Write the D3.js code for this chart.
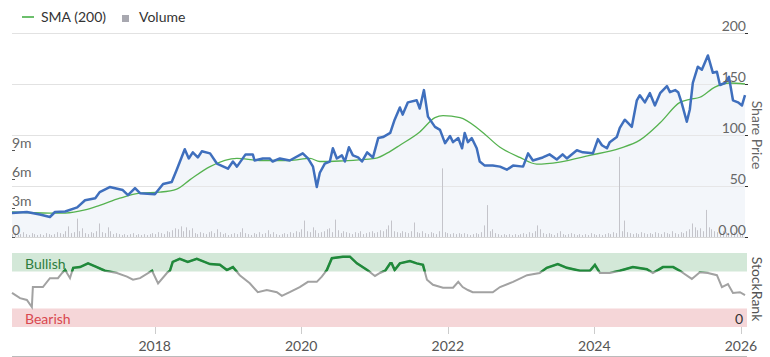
<!DOCTYPE html>
<html><head><meta charset="utf-8">
<script src="https://cdn.jsdelivr.net/npm/d3@7"></script>
<style>body{margin:0;background:#fff}svg{display:block;font-family:Lato,"Open Sans",sans-serif}</style>
</head><body><svg id="c" width="770" height="357"></svg>
<script>
const priceDates = ["2016-01-21","2016-04-04","2016-06-08","2016-07-28","2016-08-22","2016-10-12","2016-12-11","2017-01-19","2017-03-11","2017-04-02","2017-05-22","2017-07-26","2017-08-21","2017-09-25","2017-10-20","2018-01-02","2018-02-12","2018-03-27","2018-04-21","2018-05-31","2018-06-20","2018-07-10","2018-08-04","2018-08-24","2018-10-04","2018-11-07","2019-01-01","2019-01-26","2019-02-15","2019-03-30","2019-05-05","2019-05-14","2019-06-24","2019-07-28","2019-08-12","2019-09-17","2019-11-05","2020-01-09","2020-02-04","2020-02-29","2020-03-19","2020-04-03","2020-04-28","2020-05-23","2020-06-07","2020-06-27","2020-07-22","2020-08-06","2020-08-26","2020-09-15","2020-10-11","2020-10-30","2020-11-25","2020-12-24","2021-01-19","2021-02-12","2021-03-20","2021-04-11","2021-05-07","2021-05-21","2021-06-16","2021-07-30","2021-08-14","2021-09-04","2021-09-24","2021-10-29","2021-11-23","2021-12-18","2022-01-12","2022-01-27","2022-02-22","2022-03-13","2022-03-26","2022-04-11","2022-04-30","2022-05-25","2022-06-09","2022-07-04","2022-08-13","2022-09-18","2022-10-22","2022-11-22","2023-01-11","2023-02-05","2023-03-01","2023-04-19","2023-05-23","2023-06-28","2023-07-27","2023-08-17","2023-10-06","2023-11-05","2023-12-25","2024-01-19","2024-02-08","2024-03-04","2024-03-18","2024-04-22","2024-05-07","2024-06-01","2024-07-06","2024-07-31","2024-08-15","2024-09-09","2024-10-04","2024-10-29","2024-11-24","2024-12-28","2025-01-12","2025-02-07","2025-02-22","2025-03-12","2025-04-06","2025-04-21","2025-05-06","2025-05-31","2025-06-20","2025-07-20","2025-08-14","2025-09-03","2025-09-18","2025-10-13","2025-11-02","2025-11-22","2025-12-17","2026-01-06","2026-01-21"];
const priceValues = [23.5,24.5,22,19.6,24.5,25,29,36,38,44,49,46,41,48,43,42,52,54,66,86,77,83,78,84,82,72,67,74,69,81,81,75,77,77,74,77,75,82,77,69,49,63,72,74,87,77,80,74,88,80,78,74,83,78,97,98,102,115,127,120,132,134,126,144,118,108,105,92,99,93,97,87,102,93,97,87,74,70,70,69,66,70,69,82,75,78,81,76,81,77,85,83,82,96,90,87,93,98,107,115,108,134,139,132,141,129,141,148,142,144,142,131,113,125,151,167,164,178,161,162,149,151,157,134,132,129,139];

const smaDates = ["2016-01-21","2016-07-28","2016-10-12","2017-01-19","2017-04-02","2017-07-11","2017-10-20","2018-01-28","2018-04-21","2018-06-25","2018-10-04","2019-02-15","2019-06-08","2019-11-05","2020-02-14","2020-04-03","2020-07-12","2021-01-03","2021-03-20","2021-05-07","2021-08-14","2021-10-29","2021-12-08","2022-03-03","2022-06-09","2022-09-18","2022-12-26","2023-03-20","2023-07-12","2023-12-10","2024-05-07","2024-08-15","2024-11-24","2025-03-03","2025-04-21","2025-06-10","2025-08-24","2025-11-07","2026-01-21"];
const smaValues = [24.5,23.5,23.5,26.5,31,38,43,44,47,56,69,77,75,75,77,74,74.5,77,84,90,103,117,119,117,105,88,78,71.5,73.5,80,87,95,112,132,135,137,147,151,150];

const rankDates = ["2016-01-21","2016-03-01","2016-04-04","2016-04-29","2016-05-04","2016-06-23","2016-07-28","2016-09-06","2016-09-27","2016-10-12","2016-11-05","2016-11-21","2016-12-25","2017-02-03","2017-03-19","2017-04-28","2017-06-27","2017-08-16","2017-09-15","2017-10-20","2017-12-19","2018-01-18","2018-03-03","2018-03-18","2018-04-01","2018-05-06","2018-06-15","2018-07-30","2018-10-04","2018-11-22","2018-12-27","2019-01-26","2019-03-01","2019-04-20","2019-05-30","2019-07-14","2019-09-02","2019-09-27","2019-11-05","2019-12-25","2020-02-04","2020-03-19","2020-04-13","2020-05-08","2020-06-02","2020-07-27","2020-08-31","2020-10-05","2020-11-25","2021-01-03","2021-01-28","2021-02-23","2021-03-20","2021-03-27","2021-04-11","2021-05-07","2021-06-26","2021-07-30","2021-08-30","2021-09-19","2021-10-19","2021-12-08","2022-01-27","2022-02-22","2022-03-16","2022-04-11","2022-05-05","2022-08-13","2022-09-18","2022-11-22","2023-01-31","2023-04-04","2023-05-09","2023-07-03","2023-08-17","2023-10-21","2023-12-10","2024-01-04","2024-01-29","2024-03-18","2024-05-07","2024-07-11","2024-09-19","2024-10-19","2024-12-08","2025-01-28","2025-03-02","2025-05-01","2025-06-10","2025-07-20","2025-09-03","2025-09-28","2025-10-28","2025-11-22","2025-12-27","2026-01-21"];
const rankValues = [46,39,36.5,27,54,54,66,66,73,77,66,80,81,86,81,76,73,68,64,66,76,59,73,76,88,92,88,92,85,84,77,81,70,59,47,50,47,42,47,54,61,61,68,77,93,95,95,86,77,69,73,76,86,86,77,86,89,86,84,64,57,53,53,61,54,50,47,47,54,61,70,73,80,85,80,76,76,84,73,73,76,81,78,73,81,81,76,65,74,73,70,54,58,46,47,43];

const volumeStart = "2016-01-21";
const volumeStepDays = 14;
const volumeValues = [
0.3,0.4,0.2,0.3,0.5,0.3,0.2,0.4,0.3,0.2,
0.3,0.2,0.4,0.3,0.2,0.3,0.5,0.4,0.3,0.6,
1.1,0.4,0.5,1.9,0.6,0.9,0.4,0.3,0.5,0.4,
0.6,1.4,0.5,0.4,1.0,0.6,0.3,0.4,0.3,0.2,
0.3,0.2,0.3,0.4,0.2,0.3,0.2,0.3,0.2,0.3,
0.4,0.3,0.5,0.4,0.3,0.6,0.5,0.7,0.9,0.8,
1.1,0.6,1.0,0.7,0.9,0.4,0.3,0.5,0.4,0.3,
0.5,0.6,0.4,0.8,0.5,0.3,0.4,0.2,0.3,0.4,
0.3,0.5,0.9,0.4,0.3,0.2,0.4,0.3,0.5,0.3,
0.4,0.7,0.3,0.5,0.3,0.2,0.3,0.4,0.3,0.5,
0.4,0.6,0.5,0.8,1.7,0.6,0.5,1.0,0.7,0.4,
0.5,0.6,0.8,0.9,0.5,1.8,0.7,0.4,0.6,0.5,
0.4,0.3,0.5,0.4,0.6,0.3,0.4,0.5,0.6,0.4,
0.5,0.7,0.6,0.8,1.2,1.7,0.6,0.5,0.4,0.6,
0.5,0.4,0.6,1.5,0.5,0.4,0.6,0.4,0.3,0.5,
0.4,0.3,0.6,7.1,0.5,0.4,0.3,0.4,0.3,0.4,
0.3,0.4,0.3,0.2,0.3,0.4,0.3,0.5,1.2,3.3,
0.6,0.8,0.4,0.3,0.2,0.3,0.2,0.3,0.2,0.3,
0.2,0.3,0.4,0.3,0.5,0.4,0.6,1.2,0.8,0.4,
0.3,0.4,0.3,0.2,0.4,0.6,0.3,0.2,0.3,0.4,
0.3,0.2,0.3,0.2,0.3,0.2,0.4,0.3,0.2,0.3,
0.2,0.3,0.4,0.3,0.5,0.4,8.3,0.6,1.7,0.5,
0.4,0.3,0.4,0.3,0.5,0.4,0.3,0.4,0.3,0.5,
0.4,0.3,0.5,0.4,0.3,0.6,0.4,0.3,0.5,0.4,
0.6,0.8,1.4,1.0,0.7,0.9,0.6,2.8,1.0,0.8,
0.6,0.5,0.4,0.6,0.5,0.3,0.4,0.5,0.3,0.4,0.3];

const priceTicks = [0,50,100,150,200];
const priceTickLabels = ["0.00","50","100","150","200"];
const volumeTicks = [0,3,6,9];
const volumeTickLabels = ["0","3m","6m","9m"];
const yearTicks = ["2018","2020","2022","2024","2026"];
const legendLabels = ["SMA (200)","Volume"];

const parse = d3.timeParse("%Y-%m-%d");
const svg = d3.select("#c");
const L = 12, R = 745;
const x = d3.scaleTime().domain([parse("2016-01-21"), parse("2026-01-21")]).range([L, R]);
const yP = d3.scaleLinear().domain([0,200]).range([237,33]);
const yV = d3.scaleLinear().domain([0,9]).range([237,150]);
const yR = d3.scaleLinear().domain([0,100]).range([327,253]);

const price = priceDates.map((d,i)=>({d:parse(d),v:priceValues[i]}));
const sma = smaDates.map((d,i)=>({d:parse(d),v:smaValues[i]}));
const rank = rankDates.map((d,i)=>({d:parse(d),v:rankValues[i]}));
const vol = volumeValues.map((v,i)=>({d:d3.timeDay.offset(parse(volumeStart), i*volumeStepDays), v}));

// legend
const lg = svg.append("g");
lg.append("line").attr("x1",22).attr("x2",34).attr("y1",17).attr("y2",17).attr("stroke","#6cbf6c").attr("stroke-width",2);
lg.append("text").attr("x",41).attr("y",22).text(legendLabels[0]).attr("font-size",14).attr("fill","#333");
lg.append("rect").attr("x",122).attr("y",15).attr("width",7).attr("height",7).attr("fill","#a8a8b0");
lg.append("text").attr("x",139).attr("y",22).text(legendLabels[1]).attr("font-size",14).attr("fill","#333");

// gridlines
svg.append("g").selectAll("line").data(priceTicks).join("line")
  .attr("x1",L).attr("x2",R).attr("y1",d=>yP(d)).attr("y2",d=>yP(d))
  .attr("stroke",(d)=>d===0?"#d8d8d8":"#e2e2e2").attr("stroke-width",1).attr("shape-rendering","crispEdges");

// area under price
svg.append("path").datum(price)
  .attr("d", d3.area().x(d=>x(d.d)).y0(yP(0)).y1(d=>yP(d.v)))
  .attr("fill","#f3f6fa");
svg.selectAll(".gl2").data(priceTicks.filter(d=>d>0 && d<200)).join("line")
  .attr("x1",L).attr("x2",R).attr("y1",d=>yP(d)).attr("y2",d=>yP(d))
  .attr("stroke","#e2e2e2").attr("stroke-opacity",0.8).attr("shape-rendering","crispEdges");

// volume bars
svg.append("g").selectAll("line").data(vol).join("line")
  .attr("x1",d=>Math.round(x(d.d))+0.5).attr("x2",d=>Math.round(x(d.d))+0.5)
  .attr("y1",yV(0)).attr("y2",d=>yV(d.v))
  .attr("stroke","#c4c4ca").attr("stroke-width",1);

// SMA
svg.append("path").datum(sma)
  .attr("d", d3.line().x(d=>x(d.d)).y(d=>yP(d.v)).curve(d3.curveMonotoneX))
  .attr("fill","none").attr("stroke","#55b24f").attr("stroke-width",1.3);

// price
svg.append("path").datum(price)
  .attr("d", d3.line().x(d=>x(d.d)).y(d=>yP(d.v)))
  .attr("fill","none").attr("stroke","#3f6fbd").attr("stroke-width",2.5).attr("stroke-linejoin","round");

// right axis ticks & labels
const ra = svg.append("g");
ra.selectAll("line").data(priceTicks).join("line")
  .attr("x1",R).attr("x2",R+3).attr("y1",d=>yP(d)).attr("y2",d=>yP(d))
  .attr("stroke","#333").attr("shape-rendering","crispEdges");
ra.selectAll("text").data(priceTicks).join("text")
  .attr("x",R+1).attr("y",d=>yP(d)-2).attr("text-anchor","end")
  .attr("font-size",14).attr("fill","#666").text((d,i)=>priceTickLabels[i]);
svg.append("text").attr("transform","translate(752,135) rotate(90)")
  .attr("text-anchor","middle").attr("font-size",14).attr("fill","#666").text("Share Price");

// left volume axis
const la = svg.append("g");
la.selectAll("line").data(volumeTicks).join("line")
  .attr("x1",L).attr("x2",L+3).attr("y1",d=>yV(d)).attr("y2",d=>yV(d))
  .attr("stroke","#555").attr("shape-rendering","crispEdges");
la.selectAll("text").data(volumeTicks).join("text")
  .attr("x",L).attr("y",d=>yV(d)-2).attr("font-size",14).attr("fill","#666")
  .text((d,i)=>volumeTickLabels[i]);

// StockRank panel
svg.append("rect").attr("x",L).attr("width",R-L+2).attr("y",yR(100)).attr("height",yR(75)-yR(100)).attr("fill","#d3e8d8");
svg.append("rect").attr("x",L).attr("width",R-L+2).attr("y",yR(25)).attr("height",yR(0)-yR(25)).attr("fill","#f5d6d8");
svg.append("text").attr("x",25).attr("y",269).attr("font-size",14).attr("fill","#2e7d3e").text("Bullish");
svg.append("text").attr("x",25).attr("y",324).attr("font-size",14).attr("fill","#d9484f").text("Bearish");
svg.append("text").attr("x",743).attr("y",324).attr("text-anchor","end").attr("font-size",14).attr("fill","#333").text("0");
svg.append("text").attr("transform","translate(752,289) rotate(90)")
  .attr("text-anchor","middle").attr("font-size",14).attr("fill","#555").text("StockRank");

const rline = d3.line().x(d=>x(d.d)).y(d=>yR(d.v));
svg.append("path").datum(rank).attr("d",rline).attr("fill","none").attr("stroke","#a2a2a2").attr("stroke-width",2);
svg.append("clipPath").attr("id","bull").append("rect").attr("x",0).attr("width",770).attr("y",yR(100)-10).attr("height",yR(75)-yR(100)+10);
svg.append("path").datum(rank).attr("d",rline).attr("fill","none").attr("stroke","#1f8a3a").attr("stroke-width",2.5).attr("clip-path","url(#bull)");

// x axis
const xa = svg.append("g");
const yearDates = yearTicks.map(y=>parse(y+"-01-01"));
xa.selectAll("line").data(yearDates).join("line")
  .attr("x1",d=>Math.round(x(d))+0.5).attr("x2",d=>Math.round(x(d))+0.5).attr("y1",327).attr("y2",334)
  .attr("stroke","#ccc");
xa.selectAll("text").data(yearDates).join("text")
  .attr("x",d=>x(d)).attr("y",351).attr("text-anchor","middle").attr("font-size",14).attr("fill","#555")
  .text((d,i)=>yearTicks[i]);
svg.append("line").attr("x1",L).attr("x2",R+2).attr("y1",356.5).attr("y2",356.5).attr("stroke","#bbb");
</script></body></html>
